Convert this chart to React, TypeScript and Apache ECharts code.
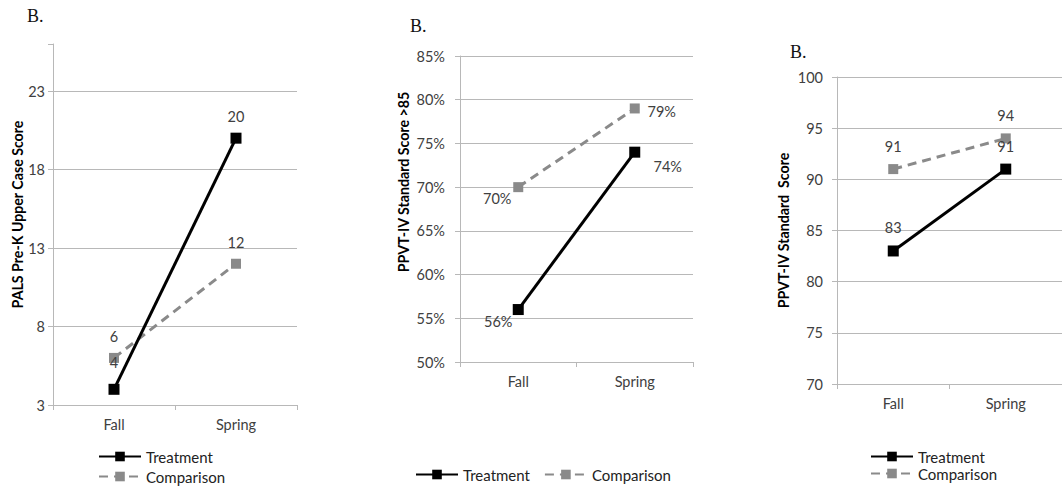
import React, { useEffect, useRef } from "react";
import * as echarts from "echarts";

const categories = ["Fall", "Spring"];
const seriesNames = ["Treatment", "Comparison"];

// Panel 1: PALS Pre-K Upper Case Score
const palsTreatment = [4, 20];
const palsComparison = [6, 12];
const palsTicks = [3, 8, 13, 18, 23];

// Panel 2: PPVT-IV Standard Score >85 (percent)
const pctTreatment = [56, 74];
const pctComparison = [70, 79];
const pctTicks = [50, 55, 60, 65, 70, 75, 80, 85];

// Panel 3: PPVT-IV Standard Score
const ppvtTreatment = [83, 91];
const ppvtComparison = [91, 94];
const ppvtTicks = [70, 75, 80, 85, 90, 95, 100];

const FONT = "Lato, 'Open Sans', sans-serif";
const TEXT = "#404040";
const GRID = "#b8b8b8";
const GRAY = "#8a8a8a";
const FS = 14.5;

const withLabels = (vals: number[], labels: any[]) =>
  vals.map((v, i) => ({ value: v, label: labels[i] }));

export default function App() {
  const ref = useRef<HTMLDivElement>(null);
  useEffect(() => {
    if (!ref.current) return;
    const chart = echarts.init(ref.current, undefined, { renderer: "svg" });

    const xAxisBase = (gridIndex: number) => ({
      type: "category" as const,
      gridIndex,
      data: categories,
      boundaryGap: true,
      axisLine: { lineStyle: { color: GRID, width: 1 } },
      axisTick: { show: true, length: 5, lineStyle: { color: GRID } },
      axisLabel: { color: TEXT, fontSize: FS, fontFamily: FONT, margin: 12 },
      splitLine: { show: false },
    });

    const yAxisBase = (
      gridIndex: number,
      min: number,
      max: number,
      ticks: number[],
      name: string,
      nameGap: number,
      shiftUp: number,
      margin: number,
      pct: boolean
    ) => {
      const lastTick = ticks[ticks.length - 1];
      const colors = ticks.map(() => GRID);
      if (max !== lastTick) colors.push("rgba(0,0,0,0)");
      return {
        type: "value" as const,
        gridIndex,
        min,
        max,
        interval: 5,
        name,
        nameLocation: "middle" as const,
        nameGap,
        nameRotate: 90,
        nameTextStyle: {
          color: "#000",
          fontSize: 14.2,
          fontWeight: "bold" as const,
          fontFamily: FONT,
          padding: [0, 0, 0, shiftUp * 2],
        },
        axisLine: { show: true, lineStyle: { color: GRID, width: 1 } },
        axisTick: { show: true, length: 5, lineStyle: { color: GRID } },
        axisLabel: {
          color: TEXT,
          fontSize: FS,
          fontFamily: FONT,
          margin,
          formatter: (v: number) =>
            ticks.indexOf(v) >= 0 ? (pct ? v + "%" : String(v)) : "",
        },
        splitLine: { show: true, lineStyle: { color: colors, width: 1 } },
      };
    };

    const treatStyle = {
      type: "line" as const,
      name: seriesNames[0],
      symbol: "rect",
      symbolSize: 11,
      lineStyle: { color: "#000", width: 3 },
      itemStyle: { color: "#000" },
      label: { show: true, color: TEXT, fontSize: FS, fontFamily: FONT },
      z: 3,
    };
    const compStyle = {
      type: "line" as const,
      name: seriesNames[1],
      symbol: "rect",
      symbolSize: 10,
      lineStyle: { color: GRAY, width: 3, type: [9, 6] as any },
      itemStyle: { color: GRAY },
      label: { show: true, color: TEXT, fontSize: FS, fontFamily: FONT },
      z: 2,
    };

    const top = (d: number) => ({ position: "top", distance: d });
    const pctLabel = (dx: number, dy: number) => ({
      position: "inside",
      offset: [dx, dy],
      formatter: (p: any) => p.value + "%",
    });

    const legendBase = {
      data: seriesNames,
      itemWidth: 42,
      itemHeight: 12,
      padding: 0,
      height: 60,
      textStyle: { color: "#222", fontSize: 15, fontFamily: FONT },
    };

    const titleStyle = {
      padding: 0,
      textStyle: {
        fontFamily: "'Liberation Serif', 'DejaVu Serif', serif",
        fontWeight: "normal" as const,
        fontSize: 18,
        color: "#111",
      },
    };

    chart.setOption({
      animation: false,
      backgroundColor: "#fff",
      title: [
        { ...titleStyle, text: "B.", left: 27, top: 7 },
        { ...titleStyle, text: "B.", left: 410, top: 17 },
        { ...titleStyle, text: "B.", left: 790, top: 43 },
      ],
      legend: [
        { ...legendBase, orient: "vertical", left: 98, top: 449, itemGap: 5 },
        { ...legendBase, orient: "horizontal", left: 415, top: 467, itemGap: 14 },
        { ...legendBase, orient: "vertical", left: 870, top: 449, itemGap: 2 },
      ],
      grid: [
        { left: 53, top: 44, width: 244, bottom: 81 },
        { left: 460, top: 56, width: 233, bottom: 124 },
        { left: 837, top: 77, width: 236, bottom: 102 },
      ],
      xAxis: [xAxisBase(0), xAxisBase(1), xAxisBase(2)],
      yAxis: [
        yAxisBase(0, 3, 26, palsTicks, "PALS Pre-K Upper Case Score", 26, 10, 8, false),
        yAxisBase(1, 50, 85, pctTicks, "PPVT-IV Standard Score >85", 50, 27, 15, true),
        yAxisBase(2, 70, 100, ppvtTicks, "PPVT-IV Standard  Score", 47, 0, 14, false),
      ],
      series: [
        {
          ...treatStyle,
          xAxisIndex: 0,
          yAxisIndex: 0,
          data: withLabels(palsTreatment, [top(14), top(9)]),
        },
        {
          ...compStyle,
          xAxisIndex: 0,
          yAxisIndex: 0,
          data: withLabels(palsComparison, [top(9), top(9)]),
        },
        {
          ...treatStyle,
          xAxisIndex: 1,
          yAxisIndex: 1,
          data: withLabels(pctTreatment, [pctLabel(-20, 12), pctLabel(33, 14)]),
        },
        {
          ...compStyle,
          xAxisIndex: 1,
          yAxisIndex: 1,
          data: withLabels(pctComparison, [pctLabel(-21, 11), pctLabel(27, 3)]),
        },
        {
          ...treatStyle,
          xAxisIndex: 2,
          yAxisIndex: 2,
          data: withLabels(ppvtTreatment, [top(10), top(10)]),
        },
        {
          ...compStyle,
          xAxisIndex: 2,
          yAxisIndex: 2,
          data: withLabels(ppvtComparison, [top(10), top(10)]),
        },
      ],
    });

    return () => chart.dispose();
  }, []);

  return (
    <div
      ref={ref}
      style={{ position: "fixed", left: 0, top: 0, width: 1062, height: 486, background: "#fff" }}
    />
  );
}
